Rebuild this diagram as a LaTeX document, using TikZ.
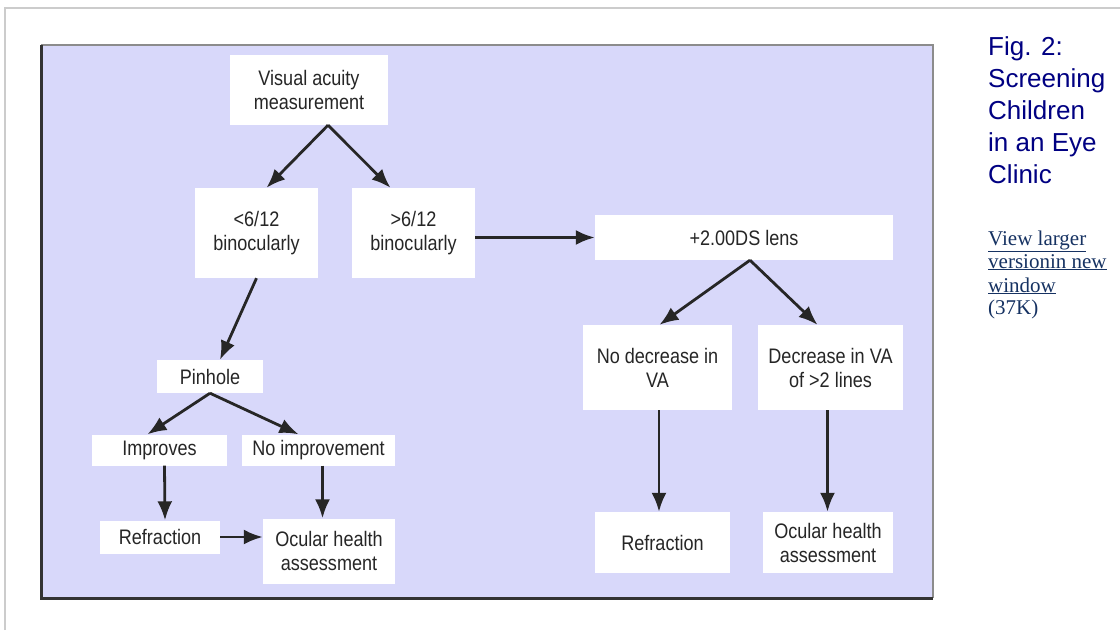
\documentclass[tikz,border=0pt]{standalone}
\usepackage{fontspec}
\newfontfamily\flowfont[FakeStretch=0.86]{Liberation Sans}
\newfontfamily\titlefont{Liberation Sans}
\newfontfamily\linkfont{Liberation Serif}
\usetikzlibrary{arrows.meta, positioning}

\definecolor{panelblue}{RGB}{216,216,250}
\definecolor{inkgray}{RGB}{38,38,38}
\definecolor{titlenavy}{RGB}{0,0,130}
\definecolor{linkblue}{RGB}{22,50,98}

\begin{document}
\begin{tikzpicture}[
                x=1pt, y=-1pt,
                box/.style={fill=white, inner sep=0pt, align=center, text=inkgray,
                            font=\flowfont\fontsize{21}{24}\selectfont},
                arrow/.style={draw=inkgray, line width=2.8pt,
                              -{Latex[length=19pt,width=15pt]}},
                title/.style={anchor=base west, inner sep=0pt, text=titlenavy,
                              font=\titlefont\fontsize{26}{32}\selectfont},
                link/.style={anchor=base west, inner sep=0pt, text=linkblue,
                             font=\linkfont\fontsize{21}{24}\selectfont}
            ]

            \useasboundingbox (0,0) rectangle (1120,630);
            \fill[white] (0,0) rectangle (1120,630);

            % Page frame
            \draw[line width=2pt, black!20] (5,630) -- (5,8) -- (1120,8);

            % Panel
            \fill[panelblue] (41,45) rectangle (933,598);
            \draw[line width=2pt, black!45] (41,45) -- (933,45) -- (933,598);
            \draw[line width=3pt, black!80] (41,45) -- (41,598) -- (933,598);

            % Left branch
            \node[box, minimum width=158, minimum height=70] (va) at (309,90) {Visual acuity\\measurement};
            \node[box, minimum width=123, minimum height=90] (lt) at (256.5,233) {<6/12\\binocularly};
            \node[box, minimum width=123, minimum height=90] (gt) at (413.5,233) {>6/12\\binocularly};
            \node[box, minimum width=106, minimum height=33] (pin) at (210,376.5) {Pinhole};
            \node[box, minimum width=135, minimum height=31] (imp) at (159.5,450) {Improves};
            \node[box, minimum width=153, minimum height=31] (noimp) at (318.5,450) {No improvement};
            \node[box, minimum width=120, minimum height=33] (refL) at (160,537) {Refraction};
            \node[box, minimum width=132, minimum height=65] (ocuL) at (329,551) {Ocular health\\assessment};

            % Right branch
            \node[box, minimum width=298, minimum height=45] (lens) at (744,237.5) {+2.00DS lens};
            \node[box, minimum width=149, minimum height=85] (nodec) at (657.5,367.5) {No decrease in\\VA};
            \node[box, minimum width=145, minimum height=85] (dec) at (830.5,367.5) {Decrease in VA\\of >2 lines};
            \node[box, minimum width=135, minimum height=61] (refR) at (662.5,542.5) {Refraction};
            \node[box, minimum width=130, minimum height=61] (ocuR) at (828,542.5) {Ocular health\\assessment};

            % Connections
            \draw[arrow] ([xshift=19]va.south) -- ([xshift=10]lt.north);
            \draw[arrow] ([xshift=19]va.south) -- ([xshift=-23]gt.north);
            \draw[arrow] (gt.east |- lens) -- (lens.west);
            \draw[arrow] (lt.south) -- ([xshift=10]pin.north);
            \draw[arrow] (pin.south) -- ([xshift=-12]imp.north);
            \draw[arrow] (pin.south) -- ([xshift=-20]noimp.north);
            \draw[arrow] ([xshift=5]imp.south) -- ([xshift=5]refL.north);
            \draw[arrow] ([xshift=4]noimp.south) -- ([xshift=4]noimp.south |- ocuL.north);
            \draw[arrow] (refL.east) -- (refL.east -| ocuL.west);
            \draw[arrow] ([xshift=6]lens.south) -- ([xshift=2]nodec.north);
            \draw[arrow] ([xshift=6]lens.south) -- ([xshift=-13]dec.north);
            \draw[arrow] ([xshift=1.5]nodec.south) -- ([xshift=1.5]nodec.south |- refR.north);
            \draw[arrow] ([xshift=-3]dec.south) -- ([xshift=-3]dec.south |- ocuR.north);

            % Caption
            \foreach \txt [count=\i] in {Fig. 2:, Screening, Children, in an Eye, Clinic}
            \node[title] (title-\i) at (988,{23+32*\i}) {\txt};

            \node[link] (link-1) at (988,245) {\underline{View larger}};
            \node[link] (link-2) at (988,268) {\underline{versionin new}};
            \node[link] (link-3) at (988,292) {\underline{window}};
            \node[link] (link-4) at (988,314) {(37K)};

        \end{tikzpicture}
\end{document}
